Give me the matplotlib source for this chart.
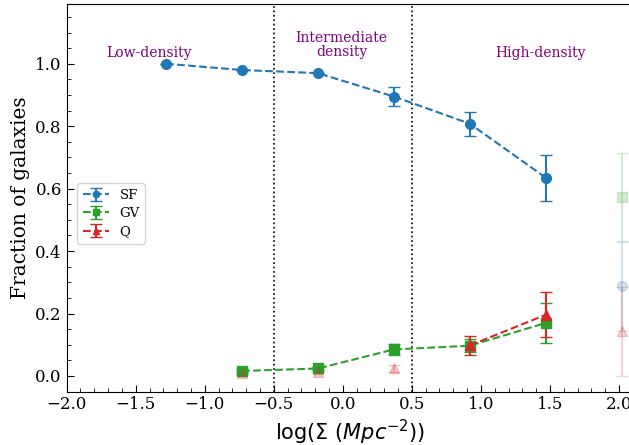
import numpy as np
import matplotlib
matplotlib.use('Agg')
import matplotlib.pyplot as plt
from matplotlib.ticker import MultipleLocator

# density bins (log Sigma)
x_sf = [-1.28, -0.73, -0.18, 0.37, 0.92, 1.47]
sf = [1.0, 0.98, 0.97, 0.895, 0.808, 0.635]
sf_err = [0.0, 0.0, 0.0, 0.03, 0.038, 0.073]

x_gv = [-0.73, -0.18, 0.37, 0.92, 1.47]
gv = [0.016, 0.024, 0.085, 0.097, 0.170]
gv_err = [0.005, 0.006, 0.018, 0.02, 0.063]

x_q = [0.92, 1.47]
q = [0.098, 0.196]
q_err = [0.03, 0.072]

# low-significance Q points
x_q_faint = [-0.73, -0.18, 0.37]
q_faint = [0.008, 0.012, 0.024]
q_faint_err = [0.004, 0.005, 0.01]

# highest-density bin (few galaxies)
x_last = 2.02
sf_last, sf_last_err = 0.287, 0.142
gv_last, gv_last_err = 0.573, 0.142
q_last, q_last_err = 0.143, 0.143

plt.rcParams['font.family'] = 'DejaVu Serif'
plt.rcParams['mathtext.fontset'] = 'dejavusans'

fig = plt.figure(figsize=(6.29, 4.45), dpi=100)
ax = fig.add_axes([0.106, 0.12, 0.9, 0.87])

ax.errorbar(x_sf, sf, yerr=sf_err, fmt='o--', color='tab:blue', ms=7,
            capsize=4, lw=1.5, label='SF')
ax.errorbar(x_gv, gv, yerr=gv_err, fmt='s--', color='tab:green', ms=7,
            capsize=4, lw=1.5, label='GV')
ax.errorbar(x_q, q, yerr=q_err, fmt='^--', color='tab:red', ms=7,
            capsize=4, lw=1.5, label='Q')

ax.errorbar(x_q_faint, q_faint, yerr=q_faint_err, fmt='^', color='tab:red',
            ms=7, capsize=4, alpha=0.25)
ax.errorbar([x_last], [sf_last], yerr=[sf_last_err], fmt='o', color='tab:blue',
            ms=7, capsize=4, alpha=0.2)
ax.errorbar([x_last], [gv_last], yerr=[gv_last_err], fmt='s', color='tab:green',
            ms=7, capsize=4, alpha=0.2)
ax.errorbar([x_last], [q_last], yerr=[q_last_err], fmt='^', color='tab:red',
            ms=7, capsize=4, alpha=0.2)

ax.axvline(-0.5, color='k', ls=':', lw=1.2)
ax.axvline(0.5, color='k', ls=':', lw=1.2)

ax.text(-1.4, 1.035, 'Low-density', color='purple', fontsize=10, ha='center', va='center')
ax.text(-0.01, 1.06, 'Intermediate\ndensity', color='purple', fontsize=10,
        ha='center', va='center', linespacing=1.05)
ax.text(1.43, 1.035, 'High-density', color='purple', fontsize=10, ha='center', va='center')

ax.set_xlim(-2.0, 2.1)
ax.set_ylim(-0.05, 1.19)
ax.xaxis.set_major_locator(MultipleLocator(0.5))
ax.xaxis.set_minor_locator(MultipleLocator(0.1))
ax.yaxis.set_major_locator(MultipleLocator(0.2))
ax.yaxis.set_minor_locator(MultipleLocator(0.05))
ax.tick_params(which='both', direction='in', labelsize=12)
ax.tick_params(which='major', length=5)
ax.tick_params(which='minor', length=3)

ax.set_xlabel(r'log($\Sigma$ ($Mpc^{-2}$))', fontsize=15, fontfamily='DejaVu Sans',
              labelpad=3)
ax.set_ylabel('Fraction of galaxies', fontsize=14.5)

ax.legend(loc='center left', bbox_to_anchor=(0.007, 0.46), fontsize=9.5,
          markerscale=0.65, labelspacing=0.4)

fig.savefig('out.png', dpi=100)
